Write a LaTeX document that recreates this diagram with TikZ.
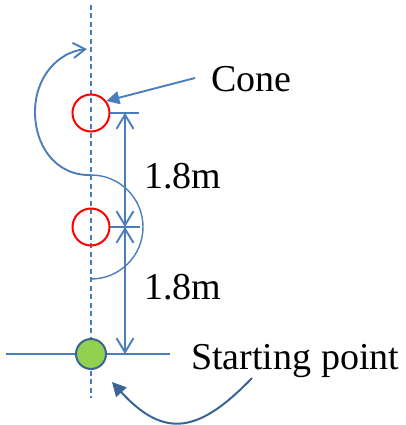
\documentclass[tikz,border=0pt]{standalone}
\usepackage{fontspec}
\setmainfont{Liberation Serif}
\usetikzlibrary{arrows.meta}
\definecolor{lnblue}{RGB}{74,126,187}
\definecolor{dkblue}{RGB}{58,100,150}
\definecolor{conered}{RGB}{255,0,0}
\definecolor{startgreen}{RGB}{146,208,80}
\begin{document}
\begin{tikzpicture}[x=1pt,y=1pt,
  conecirc/.style={circle,draw=conered,line width=2pt,minimum size=37pt,inner sep=0pt},
  startcirc/.style={circle,draw=dkblue,fill=startgreen,line width=2pt,minimum size=30pt,inner sep=0pt},
  bluel/.style={draw=lnblue,line width=1.9pt},
  dimarrow/.style={bluel,{Straight Barb[length=14pt,width=17pt]}-{Straight Barb[length=14pt,width=17pt]}},
  lbl/.style={inner sep=0pt,anchor=base west,font=\fontsize{38}{40}\selectfont}]
\useasboundingbox (0,0) rectangle (405,-425);
% axes
\coordinate (dtop) at (91,-5);
\coordinate (dbot) at (91,-398);
\draw[lnblue,line width=1.7pt,dash pattern=on 5pt off 3.5pt] (dtop) -- (dbot);
\coordinate (hl) at (6,-354);
\coordinate (hr) at (170,-354);
\draw[bluel] (hl) -- (hr);
% cones and start
\node[conecirc] (cone1) at (91,-113) {};
\node[conecirc] (cone2) at (91,-227) {};
\node[startcirc] (start) at (91,-354) {};
% dimension ticks
\coordinate (t1a) at (110,-113);
\coordinate (t1b) at (139,-113);
\coordinate (t2a) at (110,-227);
\coordinate (t2b) at (140,-227);
\draw[bluel] (t1a) -- (t1b);
\draw[bluel] (t2a) -- (t2b);
\coordinate (d1) at (125,-113);
\coordinate (d2) at (125,-227);
\coordinate (d3) at (125,-354);
\draw[dimarrow] (d1) -- (d2);
\draw[dimarrow] (d2) -- (d3);
% labels
\node[lbl] (conelbl) at (211,-92) {Cone};
\node[lbl] (dist1) at (144,-188) {1.8m};
\node[lbl] (dist2) at (144,-299) {1.8m};
\node[lbl] (startlbl) at (191,-369) {Starting point};
% cone pointer
\coordinate (cp) at (195,-78);
\draw[bluel,-{Triangle[length=13pt,width=13pt]}] (cp) -- (cone1.38);
% path around cones
\coordinate (pb) at (91,-279);
\coordinate (pt) at (91,-175);
\coordinate (pe) at (87,-49);
\draw[lnblue,line width=1.4pt] (pb) arc[start angle=-90,end angle=90,radius=52pt];
\draw[bluel,-{Straight Barb[length=12pt,width=15pt]}] (pt) .. controls (55,-176) and (35,-145) .. (35,-112) .. controls (35,-77) and (58,-52) .. (pe);
% start pointer
\coordinate (sp) at (252,-378);
\coordinate (se) at (112,-382);
\draw[dkblue,line width=2pt,-{Triangle[length=14pt,width=14pt]}] (sp) .. controls (200,-432) and (165,-440) .. (se);
\end{tikzpicture}
\end{document}
